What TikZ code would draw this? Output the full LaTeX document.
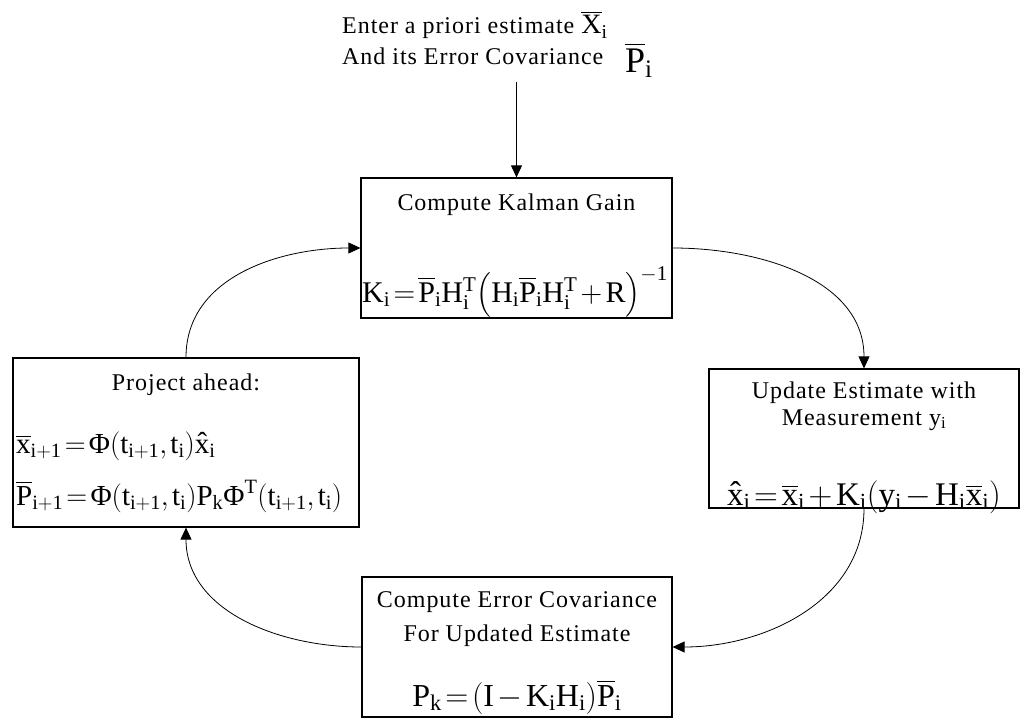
\documentclass[tikz,border=0pt]{standalone}
\usepackage{fix-cm}
\usepackage{amsmath}
\usepackage{fontspec}
\setmainfont{Liberation Serif}
\newfontfamily\boxfont[LetterSpace=4]{Liberation Serif}
\usetikzlibrary{positioning}
\usetikzlibrary{arrows.meta}
\tikzset{
  step-box/.style 2 args={draw, line width=1.2pt, inner sep=0pt, minimum width=#1, minimum height=#2},
  box-title/.style={font=\boxfont\fontsize{24}{27}\selectfont, align=center, inner sep=0pt},
  box-eq/.style={font=\fontsize{31}{37}\selectfont, inner sep=0pt,
    execute at begin node={\thickmuskip=2mu\relax\medmuskip=2mu\relax\thinmuskip=2mu\relax}},
  cycle-path/.style={line width=0.8pt, -{Triangle[length=12pt,width=11pt]}},
}
\newcommand{\ov}[1]{\overline{#1}}
\newcommand{\hx}{\text{x^^^^0302}}
\newcommand{\Stm}{\text{Φ}}

\begin{document}
\begin{tikzpicture}[x=1pt, y=-1pt]
\useasboundingbox (0,0) rectangle (1021,720);
% a priori input
\node[box-title, anchor=base west] (prior-top) at (342,34)
  {Enter a priori estimate {\fontsize{28}{28}\selectfont$\mathrm{\ov{X}_i}$}};
\node[box-title, anchor=base west] (prior-bottom) at (342,64) {And its Error Covariance};
\node[box-eq, font=\fontsize{36}{36}\selectfont, anchor=base west] (prior-cov) at (625,72) {$\mathrm{\ov{P}_i}$};
\coordinate (prior-foot) at (516.5,82);
% the four steps
\node[step-box={311pt}{140pt}] (gain) at (516.5,248) {};
\node[step-box={310pt}{139pt}] (update) at (864,438.5) {};
\node[step-box={310pt}{140pt}] (errcov) at (517,647) {};
\node[step-box={346pt}{169pt}] (project) at (186,442.5) {};
\node[box-title, below=16pt of gain.north] (gain-title) {Compute Kalman Gain};
\node[box-eq, font=\fontsize{30}{36}\selectfont, anchor=base] (gain-eq) at (515,302)
  {$\mathrm{K_i = \ov{P}_i H_i^T \bigl(H_i \ov{P}_i H_i^T + R\bigr)^{-1}}$};
\node[box-title, below=13pt of update.north] (update-title) {Update Estimate with\\Measurement y\textsubscript{i}};
\node[box-eq, font=\fontsize{33}{37}\selectfont, anchor=base] (update-eq) at (864,505)
  {$\mathrm{\hx_i = \ov{x}_i + K_i (y_i - H_i \ov{x}_i)}$};
\node[box-title, below=15pt of errcov.north] (errcov-title) {Compute Error Covariance\\[7pt]For Updated Estimate};
\node[box-eq, font=\fontsize{32}{37}\selectfont, anchor=base] (errcov-eq) at (517,706)
  {$\mathrm{P_k = (I - K_i H_i) \ov{P}_i}$};
\node[box-title, below=16pt of project.north] (project-title) {Project ahead:};
\node[box-eq, font=\fontsize{29}{35}\selectfont, anchor=base west] (project-eq1) at (16,453)
  {$\mathrm{\ov{x}_{i+1} = \Stm(t_{i+1}, t_i) \hx_i}$};
\node[box-eq, font=\fontsize{29}{35}\selectfont, anchor=base west] (project-eq2) at (16,505)
  {$\mathrm{\ov{P}_{i+1} = \Stm(t_{i+1}, t_i) P_k \Stm^T(t_{i+1}, t_i)}$};
% connectors
\draw[cycle-path] (prior-foot) -- (gain.north);
\draw[cycle-path] (gain.east) to[out=0, in=90] (update.north);
\draw[cycle-path] (update.south) to[out=-90, in=0] (errcov.east);
\draw[cycle-path] (errcov.west) to[out=180, in=-90] (project.south);
\draw[cycle-path] (project.north) to[out=90, in=180] (gain.west);
\end{tikzpicture}
\end{document}
